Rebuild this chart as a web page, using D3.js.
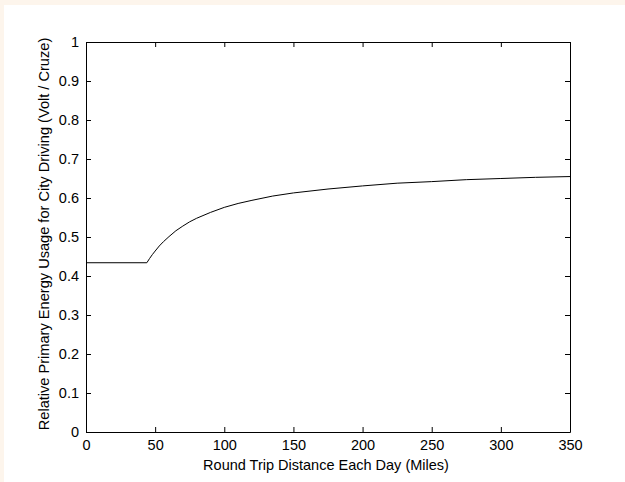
<!DOCTYPE html>
<html>
<head>
<meta charset="utf-8">
<script src="https://cdn.jsdelivr.net/npm/d3@7"></script>
<style>
  html, body { margin: 0; padding: 0; background: #fdf5ec; }
  svg { display: block; }
  text { font-family: "Liberation Sans", Arial, sans-serif; fill: #000; }
</style>
</head>
<body>
<script>
// distance (miles) and relative energy usage
const distances = [0, 44, 46, 48, 50, 53, 56, 60, 65, 70, 75, 80, 90, 100, 110, 120, 135, 150, 175, 200, 225, 250, 275, 300, 325, 350];
const ratios = [0.434, 0.434, 0.445, 0.455, 0.464, 0.477, 0.488, 0.501, 0.516, 0.528, 0.539, 0.548, 0.563, 0.576, 0.586, 0.594, 0.605, 0.613, 0.623, 0.631, 0.638, 0.642, 0.647, 0.650, 0.653, 0.655];
const xTicks = [0, 50, 100, 150, 200, 250, 300, 350];
const yTicks = [0, 0.1, 0.2, 0.3, 0.4, 0.5, 0.6, 0.7, 0.8, 0.9, 1];

const width = 625;
const height = 482;
const plotLeft = 86, plotRight = 570, plotTop = 42, plotBottom = 432;

const svg = d3.select("body").append("svg")
  .attr("width", width)
  .attr("height", height);

// white figure area
svg.append("rect")
  .attr("x", 4).attr("y", 5)
  .attr("width", width - 4).attr("height", height - 5)
  .attr("fill", "#fff");

const x = d3.scaleLinear().domain([0, 350]).range([plotLeft, plotRight]);
const y = d3.scaleLinear().domain([0, 1]).range([plotBottom, plotTop]);

const fmt = (d) => (d === 0 || d === 1 ? String(d) : d3.format(".1f")(d));

// axes with inward ticks on all four sides
svg.append("g")
  .attr("transform", `translate(0,${plotBottom})`)
  .call(d3.axisBottom(x).tickValues(xTicks).tickSizeInner(-5).tickSizeOuter(0).tickPadding(8))
  .call((g) => g.selectAll("text").attr("font-size", 14.5));

svg.append("g")
  .attr("transform", `translate(0,${plotTop})`)
  .call(d3.axisTop(x).tickValues(xTicks).tickSizeInner(-5).tickSizeOuter(0).tickFormat(""));

svg.append("g")
  .attr("transform", `translate(${plotLeft},0)`)
  .call(d3.axisLeft(y).tickValues(yTicks).tickSizeInner(-5).tickSizeOuter(0).tickPadding(7).tickFormat(fmt))
  .call((g) => g.selectAll("text").attr("font-size", 14.5));

svg.append("g")
  .attr("transform", `translate(${plotRight},0)`)
  .call(d3.axisRight(y).tickValues(yTicks).tickSizeInner(-5).tickSizeOuter(0).tickFormat(""));

svg.selectAll(".domain").attr("stroke", "#000");
svg.selectAll(".tick line").attr("stroke", "#000");
svg.selectAll(".tick text").attr("font-family", "Liberation Sans, Arial, sans-serif").attr("fill", "#000");

// curve
const line = d3.line()
  .x((d, i) => x(distances[i]))
  .y((d) => y(d));

svg.append("path")
  .datum(ratios)
  .attr("fill", "none")
  .attr("stroke", "#000")
  .attr("stroke-width", 1)
  .attr("d", line);

// axis titles
svg.append("text")
  .attr("x", (plotLeft + plotRight) / 2 - 2)
  .attr("y", 470)
  .attr("text-anchor", "middle")
  .attr("font-size", 14.5)
  .text("Round Trip Distance Each Day (Miles)");

svg.append("text")
  .attr("transform", `translate(49,234) rotate(-90)`)
  .attr("text-anchor", "middle")
  .attr("font-size", 14.6)
  .text("Relative Primary Energy Usage for City Driving (Volt / Cruze)");
</script>
</body>
</html>
